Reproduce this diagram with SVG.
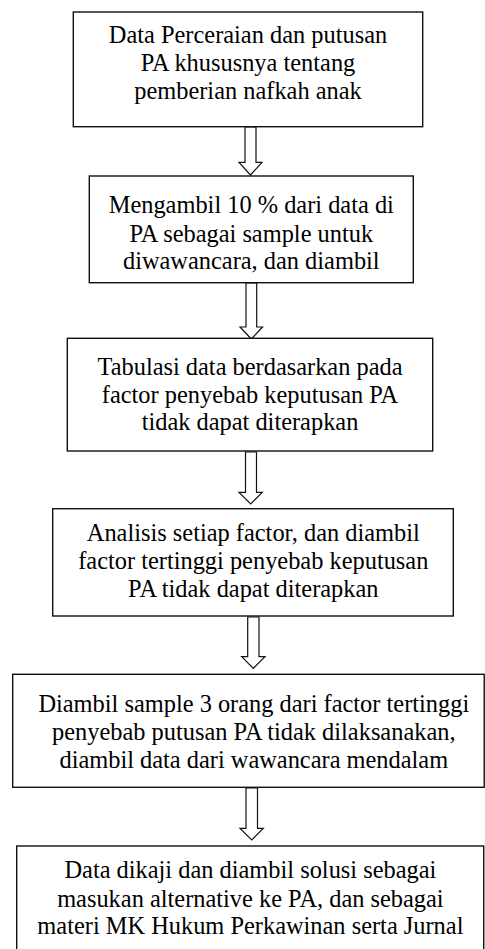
<svg xmlns="http://www.w3.org/2000/svg" width="485" height="949" viewBox="0 0 485 949">
<style>
.box{fill:#fff;stroke:#111;stroke-width:1.4}
.arrow{fill:#fff;stroke:#111;stroke-width:1.2;stroke-linejoin:miter}
text{font-family:'Liberation Serif','Times New Roman','DejaVu Serif',serif;font-size:24.4px;fill:#000;text-anchor:middle}
</style>
<rect width="485" height="949" fill="#fff"/>
<g id="connectors">
<path class="arrow" d="M245,127 V162.3 H239 L250.5,175 L262,162.3 H256 V127 Z"/>
<path class="arrow" d="M246,283 V327 H240 L251.3,339 L262.6,327 H256.7 V283 Z"/>
<path class="arrow" d="M245.5,452 V492.3 H239 L250.7,504 L262.3,492.3 H256.5 V452 Z"/>
<path class="arrow" d="M247.7,617 V656.7 H241.7 L253.3,668.3 L265,656.7 H259 V617 Z"/>
<path class="arrow" d="M246,788 V828.3 H240 L251.7,840 L263.3,828.3 H257.5 V788 Z"/>
</g>
<g font-family="Liberation Serif, serif">
<g id="n1">
<rect class="box" x="73.3" y="12" width="349.4" height="114.7"/>
<text x="248" y="43.3">Data Perceraian dan putusan</text>
<text x="248" y="71.3">PA khususnya tentang</text>
<text x="248" y="99.3">pemberian nafkah anak</text>
</g>
<g id="n2">
<rect class="box" x="89.3" y="176" width="324" height="106.7"/>
<text x="251.3" y="213.3">Mengambil 10 % dari data di</text>
<text x="251.3" y="241.5">PA sebagai sample untuk</text>
<text x="251.3" y="269.3">diwawancara, dan diambil</text>
</g>
<g id="n3">
<rect class="box" x="67.3" y="338.3" width="365.4" height="112.7"/>
<text x="250" y="375">Tabulasi data berdasarkan pada</text>
<text x="250" y="402.7">factor penyebab keputusan PA</text>
<text x="250" y="430.3">tidak dapat diterapkan</text>
</g>
<g id="n4">
<rect class="box" x="52.7" y="508.7" width="400.6" height="107.3"/>
<text x="253.3" y="540.7">Analisis setiap factor, dan diambil</text>
<text x="253.3" y="569">factor tertinggi penyebab keputusan</text>
<text x="253.3" y="597.3">PA tidak dapat diterapkan</text>
</g>
<g id="n5">
<rect class="box" x="12.7" y="674.3" width="471.5" height="113"/>
<text x="253.8" y="711.7">Diambil sample 3 orang dari factor tertinggi</text>
<text x="253.8" y="740">penyebab putusan PA tidak dilaksanakan,</text>
<text x="253.8" y="767.7">diambil data dari wawancara mendalam</text>
</g>
<g id="n6">
<rect class="box" x="16.7" y="846" width="467" height="130"/>
<text x="250.4" y="878.3">Data dikaji dan diambil solusi sebagai</text>
<text x="250.4" y="906.5">masukan alternative ke PA, dan sebagai</text>
<text x="250.4" y="934.3">materi MK Hukum Perkawinan serta Jurnal</text>
</g>
</g>
</svg>
